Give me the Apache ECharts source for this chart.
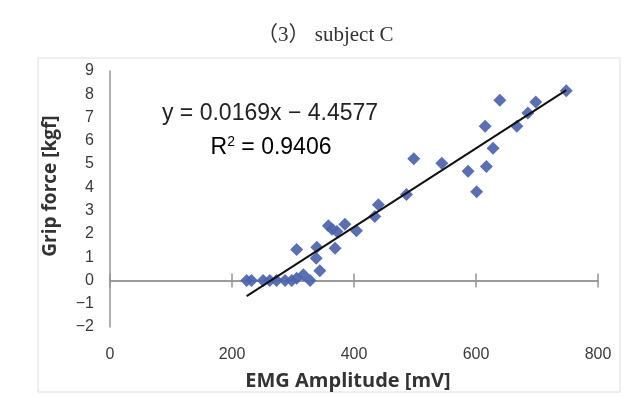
<!DOCTYPE html>
<html>
<head>
<meta charset="utf-8">
<script src="https://cdn.jsdelivr.net/npm/echarts@6/dist/echarts.min.js"></script>
<style>
html,body{margin:0;padding:0;background:#fff;}
#chart{width:629px;height:396px;}
</style>
</head>
<body>
<div id="chart"></div>
<script>
// EMG amplitude [mV] of each sample
var emgValues = [224, 232, 251, 262, 273, 287, 298, 306, 317, 328,
  306, 339, 338, 344, 358, 364, 372, 385, 404, 369,
  434, 440, 486, 498, 544, 587, 601, 615, 617, 628,
  639, 667, 685, 698, 748];
// Grip force [kgf] of each sample
var gripValues = [0, 0, 0, 0, 0, 0, 0, 0.1, 0.25, 0,
  1.33, 1.43, 0.95, 0.42, 2.35, 2.2, 2.1, 2.42, 2.14, 1.38,
  2.75, 3.25, 3.69, 5.23, 5.04, 4.69, 3.81, 6.63, 4.9, 5.68,
  7.74, 6.63, 7.2, 7.67, 8.15];
// Linear trendline end points as drawn
var trendX = [224, 748];
var trendY = [-0.67, 8.18];
var xTicks = [0, 200, 400, 600, 800];
var yTicks = [-2, -1, 0, 1, 2, 3, 4, 5, 6, 7, 8, 9];
var titleText = '（3） subject C';
var xName = 'EMG Amplitude [mV]';
var yName = 'Grip force [kgf]';
var equationText = 'y = 0.0169x \u2212 4.4577';
var r2Text = '{n|R}{s|2}{n| = 0.9406}';

var points = emgValues.map(function (v, i) { return [v, gripValues[i]]; });
var trend = trendX.map(function (v, i) { return [v, trendY[i]]; });

var axisColor = '#959595';
var labelFont = 'Liberation Sans, Arial, sans-serif';
var nameFont = 'Open Sans, Lato, sans-serif';
var chart = echarts.init(document.getElementById('chart'));
chart.setOption({
  animation: false,
  backgroundColor: '#fff',
  title: {
    text: titleText,
    left: 252,
    top: 20,
    textStyle: { fontFamily: 'Liberation Serif, Noto Sans CJK SC, serif', fontSize: 21, fontWeight: 'normal', color: '#333' }
  },
  grid: { left: 110, right: 31, top: 71, bottom: 66 },
  xAxis: [
    {
      type: 'value', min: xTicks[0], max: xTicks[xTicks.length - 1], interval: 200,
      position: 'bottom',
      axisLine: { show: true, onZero: true, onZeroAxisIndex: 0, lineStyle: { color: axisColor, width: 1.5 } },
      axisTick: { show: true, inside: false, length: 7, lineStyle: { color: axisColor, width: 1.5 } },
      axisLabel: { show: false },
      splitLine: { show: false }
    },
    {
      type: 'value', min: xTicks[0], max: xTicks[xTicks.length - 1], interval: 200,
      position: 'top',
      axisLine: { show: true, onZero: true, onZeroAxisIndex: 0, lineStyle: { color: axisColor, width: 1.5 } },
      axisTick: { show: true, inside: false, length: 7, lineStyle: { color: axisColor, width: 1.5 } },
      axisLabel: { show: false },
      splitLine: { show: false }
    },
    {
      type: 'value', min: xTicks[0], max: xTicks[xTicks.length - 1], interval: 200,
      position: 'bottom',
      axisLine: { show: false, onZero: false },
      axisTick: { show: false },
      axisLabel: { show: true, margin: 20, fontFamily: labelFont, fontSize: 16, color: '#3a3a3a' },
      splitLine: { show: false },
      name: xName,
      nameLocation: 'middle',
      nameGap: 44,
      nameTextStyle: { fontFamily: nameFont, fontWeight: 'bold', fontSize: 20, color: '#333', padding: [0, 12, 0, 0] }
    }
  ],
  yAxis: {
    type: 'value', min: yTicks[0], max: yTicks[yTicks.length - 1], interval: 1,
    axisLine: { show: true, onZero: false, lineStyle: { color: axisColor, width: 1.5 } },
    axisTick: { show: false },
    axisLabel: { margin: 16, fontFamily: labelFont, fontSize: 16, color: '#3a3a3a',
      formatter: function (v) { return String(v).replace('-', '\u2212'); } },
    splitLine: { show: false },
    name: yName,
    nameLocation: 'middle',
    nameGap: 50,
    nameTextStyle: { fontFamily: nameFont, fontWeight: 'bold', fontSize: 19, color: '#333', padding: [0, 0, 0, 26] }
  },
  graphic: [
    { type: 'rect', silent: true, shape: { x: 38, y: 58, width: 582, height: 334 }, style: { fill: 'none', stroke: '#dedede', lineWidth: 1 }, z: -1 },
    { type: 'text', x: 270, y: 114, style: { text: equationText, fontFamily: labelFont, fontSize: 23, fill: '#222', textAlign: 'center', textVerticalAlign: 'middle' } },
    { type: 'text', x: 271, y: 148, style: { text: r2Text, textAlign: 'center', textVerticalAlign: 'middle',
        rich: { n: { fontFamily: labelFont, fontSize: 23, color: '#222' },
                s: { fontFamily: labelFont, fontSize: 14, color: '#222', verticalAlign: 'top', padding: [0, 0, 12, 0] } } } }
  ],
  series: [
    {
      type: 'scatter', xAxisIndex: 0, data: points,
      symbol: 'diamond', symbolSize: 13,
      itemStyle: { color: '#4d64ad', opacity: 0.92 }
    },
    {
      type: 'line', xAxisIndex: 0, data: trend,
      symbol: 'none', lineStyle: { color: '#111', width: 2 }, z: 3
    }
  ]
});
</script>
</body>
</html>
